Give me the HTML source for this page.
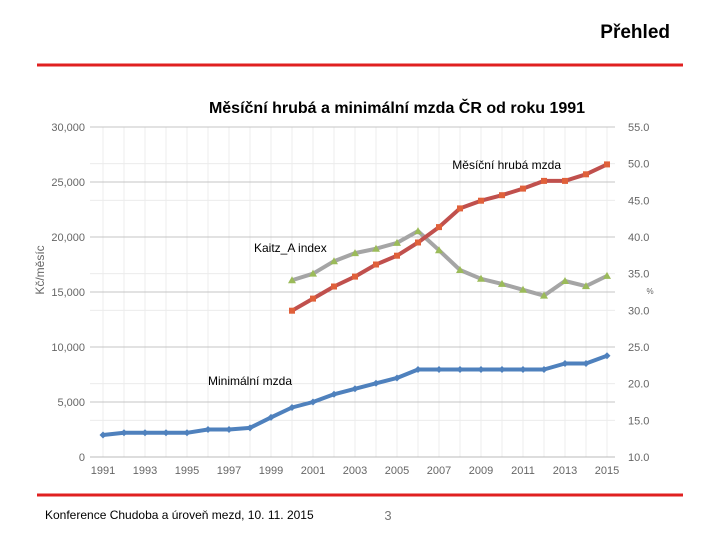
<!DOCTYPE html>
<html><head><meta charset="utf-8"><style>
body{margin:0;width:720px;height:540px;background:#fff;overflow:hidden;font-family:"Liberation Sans",sans-serif}
svg text{font-family:"Liberation Sans",sans-serif}
</style></head><body>
<svg id="c" width="720" height="540" viewBox="0 0 720 540">
<text x="670" y="38" text-anchor="end" font-size="19" font-weight="bold" fill="#000">Přehled</text>
<line x1="37" y1="65" x2="683" y2="65" stroke="#e02020" stroke-width="3"/>
<text x="397" y="113" text-anchor="middle" font-size="16" font-weight="bold" fill="#000">Měsíční hrubá a minimální mzda ČR od roku 1991</text>
<text transform="translate(44,270) rotate(-90)" text-anchor="middle" font-size="12" fill="#666">Kč/měsíc</text>
<text x="650" y="294" text-anchor="middle" font-size="8" fill="#666">%</text>
<g id="grid"></g><g id="marks"></g>
<text x="561" y="169" text-anchor="end" font-size="12" fill="#000">Měsíční hrubá mzda</text>
<text x="254" y="252" font-size="12" fill="#000">Kaitz_A index</text>
<text x="208" y="385" font-size="12" fill="#000">Minimální mzda</text>
<line x1="37" y1="495" x2="683" y2="495" stroke="#e02020" stroke-width="3"/>
<text x="45" y="519" font-size="12" fill="#000">Konference Chudoba a úroveň mezd, 10. 11. 2015</text>
<text x="388" y="520" text-anchor="middle" font-size="13" fill="#777">3</text>
</svg>
<script>
const years=[1991,1992,1993,1994,1995,1996,1997,1998,1999,2000,2001,2002,2003,2004,2005,2006,2007,2008,2009,2010,2011,2012,2013,2014,2015];
const minWage=[2000,2200,2200,2200,2200,2500,2500,2650,3600,4500,5000,5700,6200,6700,7185,7955,7955,7955,7955,7955,7955,7955,8500,8500,9200];
const wageYears=[2000,2001,2002,2003,2004,2005,2006,2007,2008,2009,2010,2011,2012,2013,2014,2015];
const avgWage=[13300,14400,15500,16400,17500,18300,19500,20900,22600,23300,23800,24400,25100,25100,25700,26600];
const kaitz=[34.1,35.0,36.7,37.8,38.4,39.2,40.8,38.2,35.5,34.3,33.6,32.8,32.0,34.0,33.3,34.7];
const leftTicks=[0,5000,10000,15000,20000,25000,30000];
const rightTicks=[10,15,20,25,30,35,40,45,50,55];
const xLabels=[1991,1993,1995,1997,1999,2001,2003,2005,2007,2009,2011,2013,2015];
const NS='http://www.w3.org/2000/svg';
const X=y=>103+(y-1991)*21;
const YL=v=>457-v*0.011;
const YR=v=>457-(v-10)*330/45;
function mk(p,t,a){const e=document.createElementNS(NS,t);for(const k in a)e.setAttribute(k,a[k]);p.appendChild(e);return e;}
const g=document.getElementById('grid'),m=document.getElementById('marks');
years.forEach(y=>{const l=mk(g,'line',{x1:X(y),x2:X(y),y1:127,y2:457,stroke:'#ececec'});

});
rightTicks.forEach(v=>{const l=mk(g,'line',{x1:90,x2:615,y1:YR(v),y2:YR(v),stroke:'#ececec'});


const t=mk(g,'text',{x:628,y:YR(v)+4,'font-size':11,fill:'#666'});t.textContent=v.toFixed(1);

});
leftTicks.forEach(v=>{const l=mk(g,'line',{x1:90,x2:615,y1:YL(v),y2:YL(v),stroke:v===0?'#bbb':'#c4c4c4'});


const t=mk(g,'text',{x:85,y:YL(v)+4,'text-anchor':'end','font-size':11,fill:'#666'});t.textContent=v.toLocaleString('en-US');

});
xLabels.forEach(y=>{const t=mk(g,'text',{x:X(y),y:474,'text-anchor':'middle','font-size':11,fill:'#666'});t.textContent=y;

});
function series(xs,vs,yf,col,mcol,shape,name){
const p=mk(m,'polyline',{points:xs.map((x,i)=>X(x)+','+yf(vs[i])).join(' '),fill:'none',stroke:col,'stroke-width':4,'stroke-linejoin':'round'});


xs.forEach((x,i)=>{const cx=X(x),cy=yf(vs[i]);let e;
if(shape==='sq')e=mk(m,'rect',{x:cx-3,y:cy-3,width:6,height:6,fill:mcol});
else if(shape==='tri')e=mk(m,'polygon',{points:`${cx},${cy-4} ${cx-4},${cy+3} ${cx+4},${cy+3}`,fill:mcol});
else e=mk(m,'polygon',{points:`${cx},${cy-3.5} ${cx+3.5},${cy} ${cx},${cy+3.5} ${cx-3.5},${cy}`,fill:mcol});

});}
series(wageYears,kaitz,YR,'#a5a5a5','#9bbb59','tri','kaitz');
series(wageYears,avgWage,YL,'#c0504d','#e0603a','sq','avg-wage');
series(years,minWage,YL,'#4f81bd','#4f81bd','dia','min-wage');
</script>
</body></html>
